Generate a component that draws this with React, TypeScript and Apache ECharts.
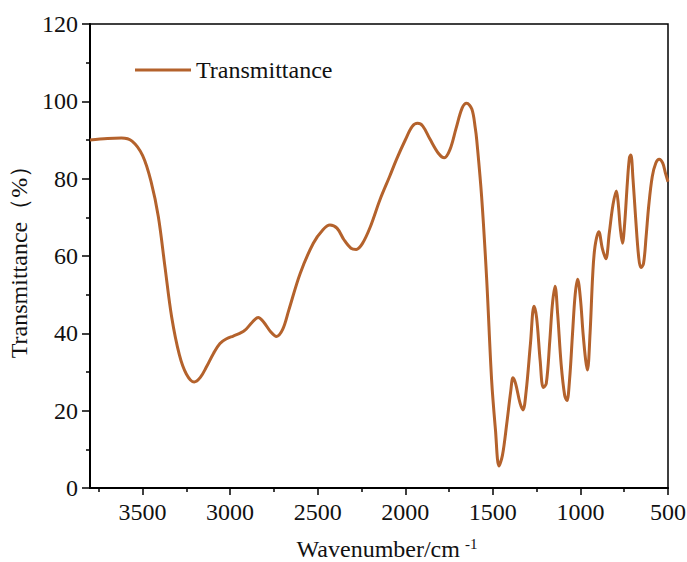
import React, { useEffect, useRef } from "react";
import * as echarts from "echarts";

// FTIR spectrum: wavenumber (cm-1) and transmittance (%)
const wavenumbers: number[] = [
  3800, 3700, 3620, 3560, 3500, 3450, 3410, 3372, 3334, 3290, 3250, 3205, 3170,
  3134, 3095, 3058, 3020, 2982, 2945, 2915, 2875, 2840, 2810, 2770, 2735, 2700,
  2665, 2600, 2525, 2470, 2430, 2390, 2350, 2310, 2280, 2245, 2200, 2145, 2090,
  2050, 2000, 1960, 1930, 1900, 1860, 1810, 1777, 1745, 1710, 1675, 1650, 1620,
  1600, 1592, 1564, 1535, 1507, 1485, 1465, 1445, 1421, 1398, 1385, 1370, 1345,
  1328, 1310, 1285, 1265, 1250, 1230, 1212, 1195, 1175, 1160, 1145, 1130, 1110,
  1090, 1077, 1062, 1045, 1030, 1016, 1000, 985, 970, 960, 945, 930, 917, 895,
  875, 855, 835, 815, 795, 785, 772, 760, 748, 732, 720, 712, 700, 685, 668, 655,
  640, 625, 610, 590, 570, 550, 530, 515, 500,
];

const transmittance: number[] = [
  90.0, 90.4, 90.5, 89.7, 86.0, 79.0, 70.2, 57.2, 44.3, 34.5, 29.5, 27.4, 28.6,
  31.4, 34.8, 37.4, 38.6, 39.3, 40.0, 40.8, 42.8, 44.1, 43.0, 40.5, 39.2, 41.0,
  46.0, 55.5, 63.3, 66.8, 68.0, 67.2, 64.2, 62.0, 61.7, 63.2, 67.5, 74.5, 80.5,
  85.0, 90.0, 93.5, 94.3, 93.6, 90.3, 86.5, 85.4, 87.5, 93.0, 98.3, 99.5, 98.0,
  93.0, 90.0, 75.3, 53.8, 27.9, 15.0, 5.7, 8.5, 16.5, 25.0, 28.5, 27.0, 22.0,
  20.2, 25.0, 37.5, 47.0, 44.0, 33.0, 26.0, 27.0, 38.0, 47.5, 52.2, 45.0, 32.0,
  24.0, 22.6, 28.0, 40.0, 50.0, 54.0, 49.0, 40.0, 33.0, 30.5, 40.0, 55.0, 62.4,
  66.3, 62.0, 59.3, 66.0, 73.0, 76.8, 74.0, 67.0, 63.3, 68.0, 79.0, 85.5, 86.1,
  80.0, 70.0, 60.0, 57.0, 58.0, 65.0, 73.0, 80.5, 84.0, 85.0, 84.0, 81.5, 79.2,
];

const xMajorTicks: number[] = [3500, 3000, 2500, 2000, 1500, 1000, 500];
const xMinorTicks: number[] = [3750, 3250, 2750, 2250, 1750, 1250, 750];

const SERIES_NAME = "Transmittance";
const LINE_COLOR = "#B4622C";
const FONT = "'Liberation Serif', 'Times New Roman', serif";
const FONT_SIZE = 24;

export default function App() {
  const ref = useRef<HTMLDivElement>(null);

  useEffect(() => {
    if (!ref.current) return;
    const chart = echarts.init(ref.current, undefined, { renderer: "svg" });
    const data = wavenumbers.map((w, i) => [w, transmittance[i]]);

    chart.setOption({
      animation: false,
      backgroundColor: "#fff",
      textStyle: { fontFamily: FONT },
      grid: {
        left: 90,
        right: 19,
        top: 24,
        bottom: 74,
        outerBoundsMode: "none",
        containLabel: false,
        show: true,
        borderColor: "#000",
        borderWidth: 1.5,
        backgroundColor: "transparent",
      },
      legend: {
        left: 130,
        top: 53,
        icon: "rect",
        itemWidth: 56,
        itemHeight: 3,
        itemGap: 6,
        data: [SERIES_NAME],
        textStyle: { fontFamily: FONT, fontSize: FONT_SIZE, color: "#111" },
      },
      xAxis: [
        {
          type: "value",
          min: 500,
          max: 3800,
          inverse: true,
          name: "Wavenumber/cm{sup|-1}",
          nameLocation: "middle",
          nameGap: 48,
          nameTextStyle: {
            fontFamily: FONT,
            fontSize: FONT_SIZE,
            color: "#111",
            padding: [0, 0, 0, 16],
            rich: {
              sup: { fontFamily: FONT, fontSize: 15, color: "#111", padding: [0, 0, 11, 5] },
            },
          },
          axisLine: { show: true, lineStyle: { color: "#000", width: 2 } },
          axisTick: {
            show: true,
            inside: false,
            length: 7,
            customValues: xMajorTicks,
            lineStyle: { color: "#000", width: 1.5 },
          },
          axisLabel: {
            customValues: xMajorTicks,
            formatter: (v: number) => String(v),
            margin: 12,
            fontFamily: FONT,
            fontSize: FONT_SIZE,
            color: "#111",
          },
          splitLine: { show: false },
        },
        {
          type: "value",
          min: 500,
          max: 3800,
          inverse: true,
          position: "bottom",
          axisLine: { show: false },
          axisTick: {
            show: true,
            inside: false,
            length: 4,
            customValues: xMinorTicks,
            lineStyle: { color: "#000", width: 1.5 },
          },
          axisLabel: { show: false },
          splitLine: { show: false },
        },
      ],
      yAxis: {
        type: "value",
        min: 0,
        max: 120,
        interval: 20,
        name: "Transmittance（%）",
        nameLocation: "middle",
        nameGap: 54,
        nameTextStyle: { fontFamily: FONT, fontSize: FONT_SIZE, color: "#111" },
        axisLine: { show: true, lineStyle: { color: "#000", width: 2 } },
        axisTick: { show: true, inside: false, length: 8, lineStyle: { color: "#000", width: 1.5 } },
        minorTick: { show: true, splitNumber: 2, length: 4, lineStyle: { color: "#000", width: 1.5 } },
        axisLabel: {
          margin: 12,
          formatter: (v: number) => String(v),
          fontFamily: FONT,
          fontSize: FONT_SIZE,
          color: "#111",
        },
        splitLine: { show: false },
        minorSplitLine: { show: false },
      },
      series: [
        {
          name: SERIES_NAME,
          type: "line",
          xAxisIndex: 0,
          data,
          smooth: 0.35,
          showSymbol: false,
          symbol: "none",
          lineStyle: { color: LINE_COLOR, width: 3 },
          itemStyle: { color: LINE_COLOR },
        },
      ],
    });

    return () => chart.dispose();
  }, []);

  return (
    <div
      ref={ref}
      style={{ position: "fixed", left: 0, top: 0, width: 687, height: 562 }}
    />
  );
}
